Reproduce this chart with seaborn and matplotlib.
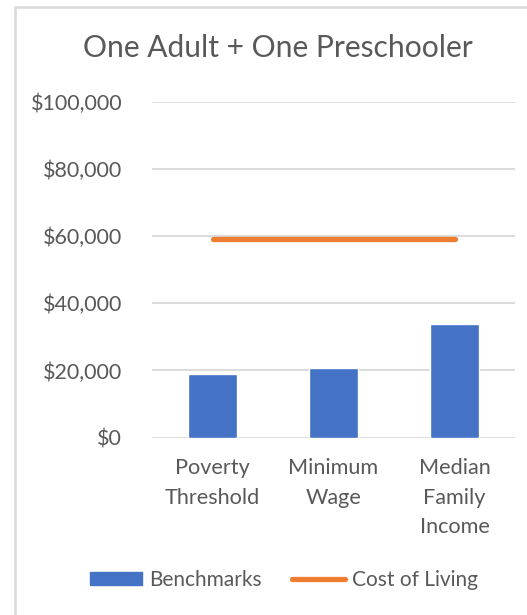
import numpy as np
import seaborn as sns
import matplotlib.pyplot as plt
from matplotlib.patches import Rectangle, Patch
from matplotlib.lines import Line2D
from matplotlib.ticker import FuncFormatter

categories = ["Poverty\nThreshold", "Minimum\nWage", "Median\nFamily\nIncome"]
benchmarks = [18900, 20800, 33800]
cost_of_living = [59300, 59300, 59300]
y_ticks = [0, 20000, 40000, 60000, 80000, 100000]

BLUE = "#4472C4"
ORANGE = "#ED7D31"
TEXT = "#595959"
GRID = "#D9D9D9"

sns.set_theme(style="white")
plt.rcParams["font.family"] = ["Lato", "DejaVu Sans"]

fig = plt.figure(figsize=(5.27, 6.15), dpi=100)
ax = fig.add_axes([152 / 527, 1 - 437.5 / 615, 363 / 527, 335.5 / 615])

sns.barplot(x=categories, y=benchmarks, color=BLUE, width=0.4, saturation=1, ax=ax)
ax.plot(np.arange(len(categories)), cost_of_living, color=ORANGE, lw=3.8,
        solid_capstyle="round")

ax.set_ylim(0, 100000)
ax.set_xlim(-0.5, len(categories) - 0.5)
ax.set_yticks(y_ticks)
ax.yaxis.set_major_formatter(FuncFormatter(lambda v, p: "${:,.0f}".format(v)))
ax.grid(axis="y", color=GRID, lw=1.3)
ax.set_axisbelow(True)
for s in ax.spines.values():
    s.set_visible(False)
ax.tick_params(axis="y", length=0, pad=21.5, labelsize=15.5, labelcolor=TEXT)
ax.tick_params(axis="x", length=0, pad=15, labelsize=15.6, labelcolor=TEXT)
for lbl in ax.get_xticklabels():
    lbl.set_linespacing(1.58)
ax.set_xlabel("")
ax.set_ylabel("")

fig.text(278 / 527, 1 - 57 / 615, "One Adult + One Preschooler", ha="center",
         va="baseline", fontsize=21.6, color=TEXT)

handles = [Patch(facecolor=BLUE, edgecolor=BLUE),
           Line2D([0], [0], color=ORANGE, lw=3.8, solid_capstyle="round")]
fig.legend(handles, ["Benchmarks", "Cost of Living"], loc="center",
           bbox_to_anchor=(284 / 527, 1 - 580 / 615), ncol=2, frameon=False,
           fontsize=15, labelcolor=TEXT, handlelength=2.5, handleheight=0.6,
           handletextpad=0.35, columnspacing=1.45)

fig.patches.append(Rectangle((15 / 527, -0.1), 1.2, 1.1 - 7 / 615,
                             transform=fig.transFigure, fill=False,
                             edgecolor=GRID, lw=1.8))

fig.savefig("out.png", dpi=100)
